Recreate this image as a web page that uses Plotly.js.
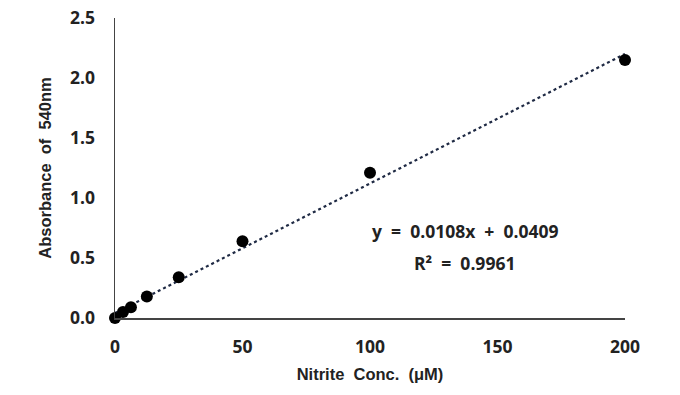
<!DOCTYPE html>
<html>
<head>
<meta charset="utf-8">
<script src="https://cdn.plot.ly/plotly-3.0.1.min.js"></script>
<style>html,body{margin:0;padding:0;background:#fff;}#chart{width:680px;height:395px;}</style>
</head>
<body>
<div id="chart"></div>
<script>
// Data
const concentrations = [0, 3.125, 6.25, 12.5, 25, 50, 100, 200];
const absorbance = [0.0, 0.05, 0.09, 0.18, 0.34, 0.64, 1.21, 2.15];
const slope = 0.0108;
const intercept = 0.0409;
const xTicks = [0, 50, 100, 150, 200];
const yTicks = [0, 0.5, 1.0, 1.5, 2.0, 2.5];

const xMin = Math.min(...concentrations), xMax = Math.max(...concentrations);
const trendX = [xMin, xMax];
const trendY = trendX.map(x => slope * x + intercept);

const TICKFONT = '"Open Sans", "Noto Sans", sans-serif';
const TITLEFONT = '"Liberation Sans", Arial, sans-serif';

const traces = [
  {
    x: trendX, y: trendY, mode: 'lines', type: 'scatter',
    line: {color: '#1f2a44', width: 2.2, dash: 'dot'},
    hoverinfo: 'skip', cliponaxis: false
  },
  {
    x: concentrations, y: absorbance, mode: 'markers', type: 'scatter',
    marker: {color: '#000', size: 12},
    cliponaxis: false
  }
];

const tickFont = {family: TICKFONT, size: 17.5, color: '#222', weight: 'bold'};
const titleFont = {family: TITLEFONT, size: 16.5, color: '#222', weight: 'bold'};
const annFont = {family: TICKFONT, size: 17.5, color: '#222', weight: 'bold'};

const axisCommon = {
  showgrid: false, zeroline: false, showline: true,
  linecolor: '#444', linewidth: 1.5, ticks: '',
  tickfont: tickFont
};

const layout = {
  width: 680, height: 395,
  margin: {l: 115, r: 55, t: 18, b: 77},
  paper_bgcolor: '#fff', plot_bgcolor: '#fff',
  showlegend: false,
  xaxis: Object.assign({}, axisCommon, {
    range: [0, 200], tickvals: xTicks, ticktext: xTicks.map(String),
    ticklabelstandoff: 12,
    title: {text: '<b>Nitrite&nbsp; Conc.&nbsp; (μM)</b>', standoff: 12, font: titleFont}
  }),
  yaxis: Object.assign({}, axisCommon, {
    range: [0, 2.5], tickvals: yTicks, ticktext: yTicks.map(v => v.toFixed(1)),
    ticklabelstandoff: 15,
    title: {text: '<b>Absorbance&nbsp; of&nbsp; 540nm</b>', standoff: 14, font: titleFont}
  }),
  annotations: [
    {xref: 'paper', yref: 'paper', x: 0.688, y: 0.29, xanchor: 'center', yanchor: 'middle',
     text: 'y&nbsp; =&nbsp; 0.0108x&nbsp; +&nbsp; 0.0409', showarrow: false, font: annFont},
    {xref: 'paper', yref: 'paper', x: 0.686, y: 0.183, xanchor: 'center', yanchor: 'middle',
     text: 'R²&nbsp; =&nbsp; 0.9961', showarrow: false, font: annFont}
  ]
};

Plotly.newPlot('chart', traces, layout, {displayModeBar: false, staticPlot: true});
</script>
</body>
</html>
